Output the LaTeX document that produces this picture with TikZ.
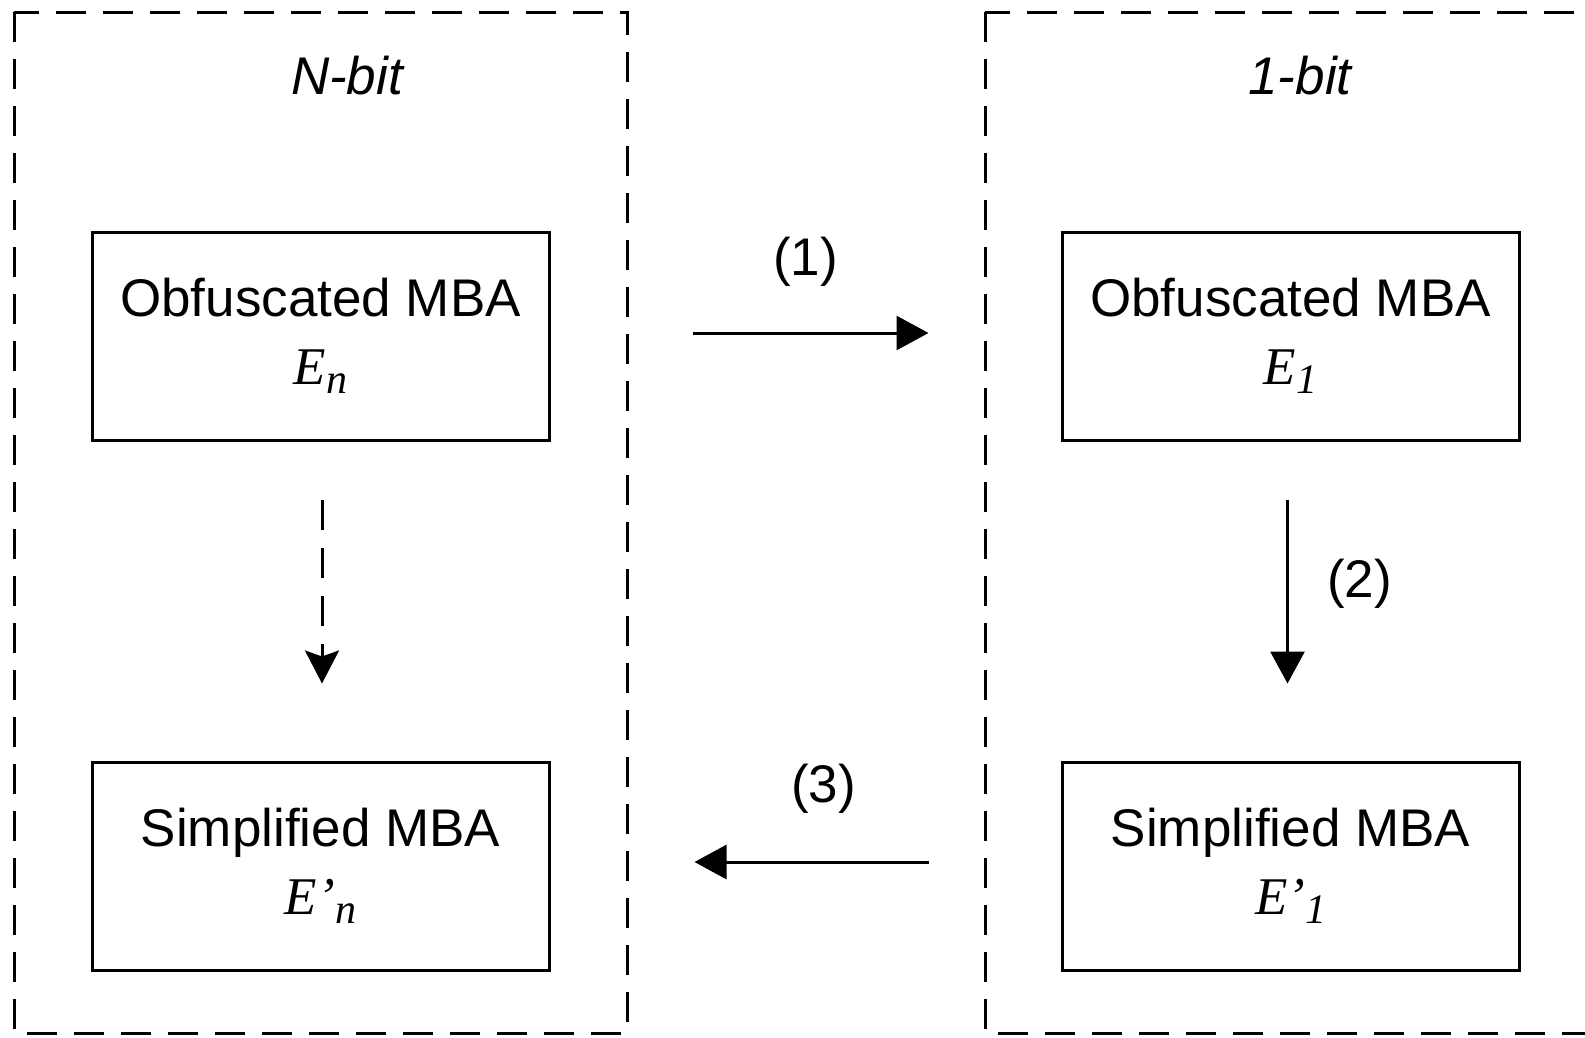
\documentclass[tikz,border=0pt]{standalone}
\usepackage{fontspec}
\setmainfont{Liberation Sans}
\newfontfamily\tms{Liberation Serif}
\usepackage{tikz}
\usetikzlibrary{arrows.meta, positioning, calc}

\tikzset{
  frame/.style={line width=3pt, dash pattern=on 30pt off 17pt},
  blk/.style={draw, line width=3pt, minimum width=457pt, minimum height=208pt, align=center, inner sep=0pt},
  flow/.style={line width=3pt, -{Triangle[length=32pt, width=34pt]}},
  guess/.style={line width=3pt, dash pattern=on 30pt off 18pt, -{Stealth[length=33pt, width=34pt, inset=6pt]}},
}

\newcommand{\expr}[2]{{\tms\itshape #1\raisebox{-9pt}{\fontsize{42}{42}\selectfont #2}}}

\begin{document}
\begin{tikzpicture}[x=1pt, y=-1pt, every node/.style={font=\fontsize{53}{68}\selectfont}]
\useasboundingbox (0,0) rectangle (1585,1037);
\clip (0,0) rectangle (1585,1037);

% bit-width frames
\draw[frame] (14,12) rectangle (627,1033);
\draw[frame] (985,12) rectangle (1598,1033);
\node (nbit) at (347,76) {\itshape N-bit};
\node (onebit) at (1300,76) {\itshape 1-bit};

\node (obfN)[blk] at (320.5,336) {Obfuscated MBA\\\expr{E}{n}};
\node (simpN)[blk, below=319pt of obfN] {Simplified MBA\\\expr{E’}{n}};

\node (obf1)[blk] at (1290.5,336) {Obfuscated MBA\\\expr{E}{1}};
\node (simp1)[blk, below=319pt of obf1] {Simplified MBA\\\expr{E’}{1}};

\draw[flow, shorten <=142pt, shorten >=132pt] ([yshift=3pt]obfN.east) -- node(s1)[above=42pt]{(1)} ([yshift=3pt]obf1.west);
\draw[flow, shorten <=58pt, shorten >=77pt] ([xshift=-3pt]obf1.south) -- node(s2)[right=35pt, yshift=17pt]{(2)} ([xshift=-3pt]simp1.north);
\draw[flow, shorten <=132pt, shorten >=144pt] ([yshift=4pt]simp1.west) -- node(s3)[above=44pt, xshift=18pt]{(3)} ([yshift=4pt]simpN.east);

\draw[guess, shorten <=58pt, shorten >=77pt] ([xshift=1.5pt]obfN.south) -- ([xshift=1.5pt]simpN.north);
\end{tikzpicture}
\end{document}
